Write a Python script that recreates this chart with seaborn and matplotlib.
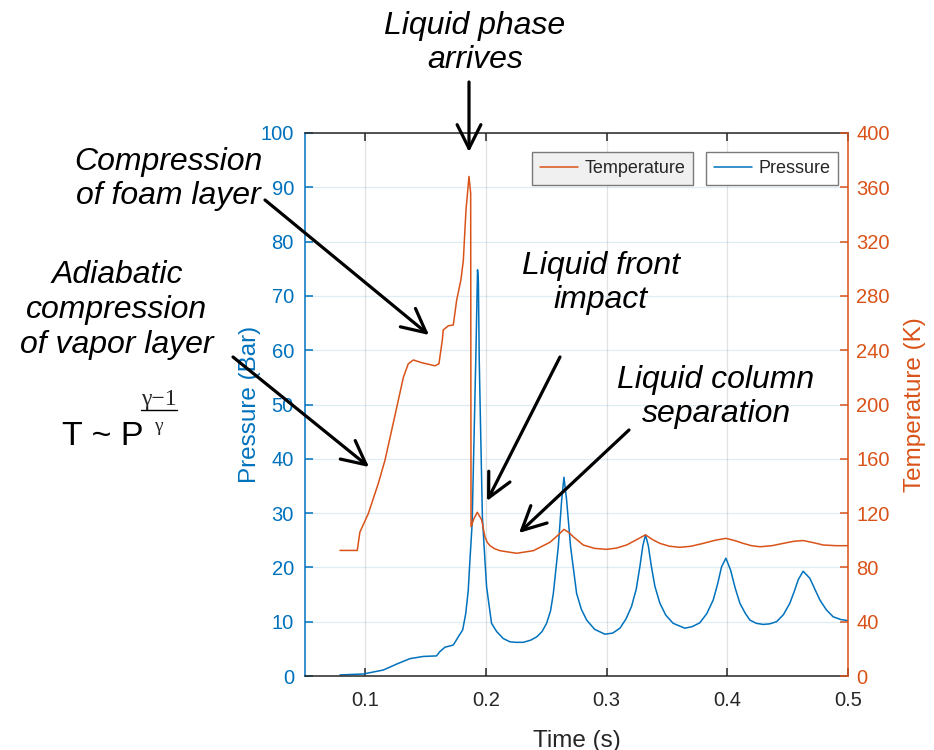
import numpy as np
import pandas as pd
import matplotlib
matplotlib.use("Agg")
import matplotlib.pyplot as plt
from matplotlib.lines import Line2D
import seaborn as sns

# ---------------- data ----------------
time_pressure = [0.079, 0.0983, 0.1149, 0.126, 0.137, 0.148, 0.159, 0.1618, 0.166, 0.1729,
                 0.177, 0.1807, 0.1832, 0.1853, 0.1867, 0.1885, 0.1915, 0.1930, 0.1937,
                 0.1944, 0.1970, 0.1991, 0.2005, 0.2046, 0.2088, 0.2143, 0.2198, 0.2250,
                 0.2309, 0.2370, 0.2420, 0.2465, 0.2502, 0.2535, 0.2558, 0.2599, 0.2627,
                 0.2646, 0.2668, 0.2701, 0.2751, 0.2790, 0.2834, 0.2900, 0.2985, 0.3050,
                 0.3110, 0.3160, 0.3206, 0.3245, 0.3275, 0.3300, 0.3322, 0.3345, 0.3371,
                 0.3400, 0.3441, 0.3490, 0.3551, 0.3648, 0.3710, 0.3772, 0.3830, 0.3883,
                 0.3920, 0.3952, 0.3988, 0.4027, 0.4065, 0.4104, 0.4150, 0.4187, 0.4240,
                 0.4297, 0.4350, 0.4408, 0.4465, 0.4518, 0.4555, 0.4587, 0.4628, 0.4684,
                 0.4725, 0.4767, 0.4820, 0.4877, 0.4940, 0.5000]
pressure = [0.2, 0.37, 1.1, 2.2, 3.2, 3.6, 3.7, 4.5, 5.3, 5.7,
            7.2, 8.5, 11.5, 15.8, 21.4, 28.0, 58.0, 74.8, 72.6,
            58.0, 29.3, 21.4, 16.4, 9.7, 8.2, 6.9, 6.3, 6.2,
            6.2, 6.6, 7.2, 8.2, 9.7, 12.0, 15.2, 23.8, 32.4,
            36.6, 32.4, 23.8, 15.2, 12.3, 10.3, 8.6, 7.7, 7.9,
            8.8, 10.5, 12.8, 16.0, 20.1, 24.0, 26.0, 24.0, 20.1,
            16.5, 13.4, 11.2, 9.7, 8.8, 9.1, 9.8, 11.5, 14.0,
            17.0, 20.1, 21.7, 19.5, 16.2, 13.4, 11.5, 10.3, 9.7,
            9.5, 9.6, 10.0, 11.3, 13.4, 15.6, 17.7, 19.3, 18.0,
            16.0, 14.0, 12.2, 10.9, 10.4, 10.2]

time_temperature = [0.079, 0.0933, 0.0955, 0.1025, 0.1108, 0.1163, 0.1218, 0.1273, 0.1315,
                    0.1356, 0.1398, 0.1467, 0.1577, 0.1610, 0.1638, 0.1646, 0.1688, 0.1729,
                    0.1757, 0.1792, 0.1812, 0.1834, 0.1859, 0.1873, 0.1876, 0.1900, 0.1928,
                    0.1964, 0.1991, 0.2010, 0.2033, 0.2070, 0.2116, 0.2254, 0.2392, 0.2530,
                    0.2600, 0.2646, 0.2690, 0.2723, 0.2806, 0.2900, 0.2999, 0.3080, 0.3165,
                    0.3250, 0.3322, 0.3380, 0.3441, 0.3520, 0.3607, 0.3700, 0.3800, 0.3900,
                    0.3988, 0.4060, 0.4131, 0.4200, 0.4270, 0.4370, 0.4463, 0.4550, 0.4628,
                    0.4710, 0.4794, 0.4900, 0.5000]
temperature = [92.5, 92.5, 106, 119.7, 142, 159, 181, 203, 220,
               230, 232.8, 230.8, 228.5, 230, 247.5, 255, 258, 258.6,
               277, 291.7, 306, 343, 368, 355.6, 110, 116, 120.6,
               115, 102.6, 98.5, 96, 93.8, 92.3, 90.4, 92.3, 98.5,
               104, 108, 105.5, 102.6, 96.5, 94, 93.3, 94.2, 96.5,
               100.5, 104, 100.5, 97.7, 95.6, 94.8, 95.6, 97.7, 100,
               101.4, 99.8, 97.7, 96, 95.2, 96, 97.7, 99.2, 99.8,
               98.3, 96.5, 96, 96]

x_ticks = [0.1, 0.2, 0.3, 0.4, 0.5]
p_ticks = [0, 10, 20, 30, 40, 50, 60, 70, 80, 90, 100]
t_ticks = [0, 40, 80, 120, 160, 200, 240, 280, 320, 360, 400]

df_p = pd.DataFrame({"Time (s)": time_pressure, "Pressure": pressure})
df_t = pd.DataFrame({"Time (s)": time_temperature, "Temperature": temperature})

# ---------------- style ----------------
sns.set_style("white")
plt.rcParams["font.family"] = ["Liberation Sans", "DejaVu Sans"]
plt.rcParams["axes.unicode_minus"] = True

BLUE = "#0072BD"
ORANGE = "#D95319"
DARK = "#262626"

W, H = 934, 750
fig = plt.figure(figsize=(W / 100, H / 100), dpi=100)

def fx(x):
    return x / W

def fy(y):
    return 1 - y / H

ax = fig.add_axes([fx(305), fy(676), (848 - 305) / W, (676 - 133) / H])
ax2 = ax.twinx()

sns.lineplot(data=df_p, x="Time (s)", y="Pressure", ax=ax, color=BLUE, lw=1.1,
             estimator=None, sort=False, legend=False)
sns.lineplot(data=df_t, x="Time (s)", y="Temperature", ax=ax2, color=ORANGE, lw=1.1,
             estimator=None, sort=False, legend=False)

ax.set_xlim(0.05, 0.5)
ax.set_ylim(0, 100)
ax2.set_ylim(0, 400)
ax.set_xticks(x_ticks)
ax.set_xticklabels([f"{v:g}" for v in x_ticks])
ax.set_yticks(p_ticks)
ax2.set_yticks(t_ticks)

# grid (MATLAB-like)
ax.grid(True, axis="x", color=DARK, alpha=0.13, lw=0.9)
ax.grid(True, axis="y", color=BLUE, alpha=0.13, lw=0.9)
ax.set_axisbelow(True)

# spines
for s in ["top", "bottom"]:
    ax.spines[s].set_color(DARK)
    ax.spines[s].set_linewidth(1.1)
ax.spines["left"].set_color(BLUE)
ax.spines["left"].set_linewidth(1.1)
ax.spines["right"].set_visible(False)
for s in ["top", "bottom", "left"]:
    ax2.spines[s].set_visible(False)
ax2.spines["right"].set_color(ORANGE)
ax2.spines["right"].set_linewidth(1.1)
ax2.spines["right"].set_visible(True)

ax.tick_params(axis="x", direction="in", top=True, bottom=True, length=6, width=1.1,
               color=DARK, labelcolor=DARK, labelsize=14.5, pad=11)
ax.tick_params(axis="y", direction="in", left=True, right=False, length=6, width=1.1,
               color=BLUE, labelcolor=BLUE, labelsize=14.5, pad=8)
ax2.tick_params(axis="y", direction="in", right=True, left=False, length=6, width=1.1,
                color=ORANGE, labelcolor=ORANGE, labelsize=14.5, pad=6)

ax.set_xlabel("Time (s)", fontsize=17.5, color=DARK, labelpad=14)
ax.set_ylabel("Pressure (Bar)", fontsize=17.5, color=BLUE, labelpad=0)
ax2.set_ylabel("Temperature (K)", fontsize=17.5, color=ORANGE, labelpad=10)

# legends (two separate boxes)
h_t = Line2D([], [], color=ORANGE, lw=1.1)
h_p = Line2D([], [], color=BLUE, lw=1.1)
leg_t = ax2.legend([h_t], ["Temperature"], loc="upper left",
                   bbox_to_anchor=(fx(532), fy(152)), bbox_transform=fig.transFigure,
                   borderaxespad=0, fontsize=13, fancybox=False, framealpha=1,
                   facecolor="#f0f0f0", edgecolor="#7a7a7a", handlelength=2.1,
                   handletextpad=0.35, borderpad=0.45)
leg_t.get_frame().set_linewidth(1.0)
leg_p = ax2.legend([h_p], ["Pressure"], loc="upper left",
                   bbox_to_anchor=(fx(706), fy(152)), bbox_transform=fig.transFigure,
                   borderaxespad=0, fontsize=13, fancybox=False, framealpha=1,
                   facecolor="white", edgecolor="#7a7a7a", handlelength=2.1,
                   handletextpad=0.35, borderpad=0.45)
leg_p.get_frame().set_linewidth(1.0)
ax2.add_artist(leg_t)

# ---------------- annotations ----------------
note_kw = dict(fontsize=23, style="italic", color="black", ha="center", va="center",
               multialignment="center", linespacing=1.2)
fig.text(fx(475), fy(43), "Liquid phase\narrives", **note_kw)
fig.text(fx(168), fy(179), "Compression\nof foam layer", **note_kw)
fig.text(fx(117), fy(310), "Adiabatic\ncompression\nof vapor layer", **note_kw)
fig.text(fx(601), fy(283), "Liquid front\nimpact", **note_kw)
fig.text(fx(716), fy(397), "Liquid column\nseparation", **note_kw)

arrows = [((469, 82), (469, 152)),
          ((265, 200), (429, 335)),
          ((233, 357), (369, 467)),
          ((560, 357), (487, 501)),
          ((629, 430), (519, 533))]
for (x0, y0), (x1, y1) in arrows:
    ax.annotate("", xy=(fx(x1), fy(y1)), xycoords="figure fraction",
                xytext=(fx(x0), fy(y0)), textcoords="figure fraction",
                arrowprops=dict(arrowstyle="->,head_length=0.9,head_width=0.45",
                                lw=2.3, color="black", mutation_scale=19,
                                shrinkA=0, shrinkB=0),
                annotation_clip=False)

# formula T ~ P^((gamma-1)/gamma)
fig.text(fx(62), fy(445), "T ~ P", fontsize=24.5, color="black", ha="left", va="baseline")
fig.text(fx(159), fy(405), "\u03b3\u22121", fontsize=17, family=["Liberation Serif", "DejaVu Serif"],
         ha="center", va="baseline")
fig.add_artist(Line2D([fx(141), fx(177)], [fy(410), fy(410)], color="black", lw=1.0,
                      transform=fig.transFigure))
fig.text(fx(158), fy(431), "\u03b3", fontsize=14, family=["Liberation Serif", "DejaVu Serif"],
         ha="center", va="baseline")

fig.savefig("out.png", dpi=100)
